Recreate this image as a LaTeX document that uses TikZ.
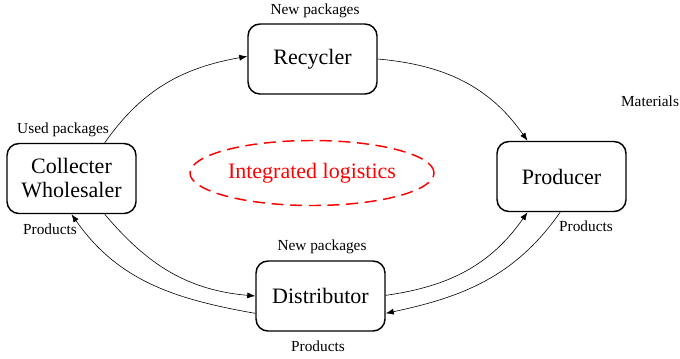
\documentclass[tikz,border=0pt]{standalone}
\usepackage{fontspec}
\setmainfont{Liberation Serif}
\usetikzlibrary{arrows.meta,shapes.geometric}
\begin{document}
\begin{tikzpicture}[x=0.75pt,y=-0.75pt,
  actor/.style={draw,line width=1.1pt,rounded corners=9pt,minimum width=96.75pt,
    minimum height=52.5pt,inner sep=0pt,align=center,
    font=\fontsize{16.5pt}{18pt}\selectfont},
  flow/.style={line width=0.45pt,-{Latex[length=6pt,width=4.5pt]}},
  tag/.style={inner sep=0pt,font=\fontsize{11.5pt}{13pt}\selectfont},
  hub/.style={ellipse,draw=red,dashed,dash pattern=on 9pt off 5pt,line width=1.1pt,
    minimum width=183pt,minimum height=48.75pt,inner sep=0pt,text=red,
    font=\fontsize{16.5pt}{18pt}\selectfont}]
\useasboundingbox (0,0) rectangle (680,358);

% actors of the packaging loop
\node[actor] (rec) at (312.5,59) {Recycler};
\node[actor] (col) at (71.5,178.5) {Collecter\\Wholesaler};
\node[actor] (pro) at (561.5,176.5) {Producer};
\node[actor] (dis) at (320.5,296) {Distributor};
\node[hub] (log) at (312,173) {Integrated logistics};

% flow labels
\node[tag] (t1) at (315,11) {New packages};
\node[tag] (t2) at (650,101) {Materials};
\node[tag] (t3) at (63,130) {Used packages};
\node[tag] (t4) at (50,229) {Products};
\node[tag] (t5) at (322,247) {New packages};
\node[tag] (t6) at (586,226) {Products};
\node[tag] (t7) at (318,346) {Products};

% flows
\draw[flow] ([xshift=-24pt]col.north east) to[out=55,in=190] ([yshift=2pt]rec.west);
\draw[flow] (rec.east) to[out=-5,in=125] ([xshift=-25.5pt]pro.north);
\draw[flow] ([xshift=-1pt]pro.south) to[out=-125,in=12] ([yshift=-13pt]dis.east);
\draw[flow] ([yshift=0.5pt]dis.east) to[out=8,in=-125] ([xshift=-25.5pt]pro.south);
\draw[flow] ([xshift=-24pt]col.south east) to[out=-50,in=175] (dis.west);
\draw[flow] ([yshift=-13pt]dis.west) to[out=170,in=-55] (col.south);
\end{tikzpicture}
\end{document}
